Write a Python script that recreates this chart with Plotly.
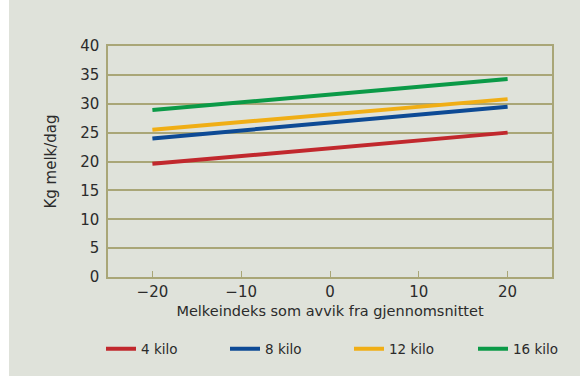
import plotly.graph_objects as go

x_vals = [-20, 20]
series_names = ["4 kilo", "8 kilo", "12 kilo", "16 kilo"]
series_values = {
    "4 kilo": [19.6, 25.0],
    "8 kilo": [24.0, 29.5],
    "12 kilo": [25.5, 30.8],
    "16 kilo": [28.9, 34.3],
}
colors = {
    "4 kilo": "#c1282d",
    "8 kilo": "#0d4a95",
    "12 kilo": "#f0ae15",
    "16 kilo": "#0b9a47",
}
x_ticks = [-20, -10, 0, 10, 20]
y_ticks = [0, 5, 10, 15, 20, 25, 30, 35, 40]

FONT = "DejaVu Sans"
TXT = "#2b2b2b"
GRID = "#a9a677"
BG = "#dfe2da"

fig = go.Figure()
for name in series_names:
    fig.add_trace(go.Scatter(
        x=x_vals, y=series_values[name], mode="lines", name=name,
        line=dict(color=colors[name], width=4),
    ))

W, H = 580, 376
ml, mr, mt, mb = 108, 28, 46, 99
pw, ph = W - ml - mr, H - mt - mb

# background panel (white strips at top and left)
fig.add_shape(type="rect", xref="paper", yref="paper",
              x0=(9 - ml) / pw, x1=(W - ml) / pw,
              y0=-(H - mt - ph) / ph - 0.01, y1=(H - mt - 11) / ph,
              fillcolor=BG, line=dict(width=0), layer="below")

fig.update_layout(
    width=W, height=H,
    margin=dict(l=ml, r=mr, t=mt, b=mb, pad=0, autoexpand=False),
    paper_bgcolor="white", plot_bgcolor="rgba(0,0,0,0)",
    font=dict(family=FONT, color=TXT, size=14),
    showlegend=True,
    legend=dict(orientation="h", x=(101 - ml) / pw, xanchor="left",
                y=-(349 - mt - ph) / ph, yanchor="middle",
                entrywidth=79, entrywidthmode="pixels",
                bgcolor="rgba(0,0,0,0)", font=dict(size=13.5, color=TXT),
                itemclick=False, tracegroupgap=0),
)
fig.update_xaxes(
    range=[-25, 25], tickvals=x_ticks,
    ticktext=[("\u2212" + str(abs(v))) if v < 0 else str(v) for v in x_ticks],
    ticks="inside", ticklen=6, tickwidth=1.2, tickcolor=GRID,
    showgrid=False, zeroline=False,
    showline=True, linecolor=GRID, linewidth=1.5, mirror=True,
    tickfont=dict(size=15, color=TXT),
    title=dict(text="Melkeindeks som avvik fra gjennomsnittet",
               font=dict(size=14.5, color=TXT), standoff=6),
)
fig.update_yaxes(
    range=[0, 40], tickvals=y_ticks, ticks="",
    showgrid=True, gridcolor=GRID, gridwidth=1.5, zeroline=False,
    showline=True, linecolor=GRID, linewidth=1.5, mirror=True,
    tickfont=dict(size=15, color=TXT), ticklabelstandoff=4,
    title=dict(text="Kg melk/dag", font=dict(size=15, color=TXT), standoff=20),
)

fig.write_html("out.html")
